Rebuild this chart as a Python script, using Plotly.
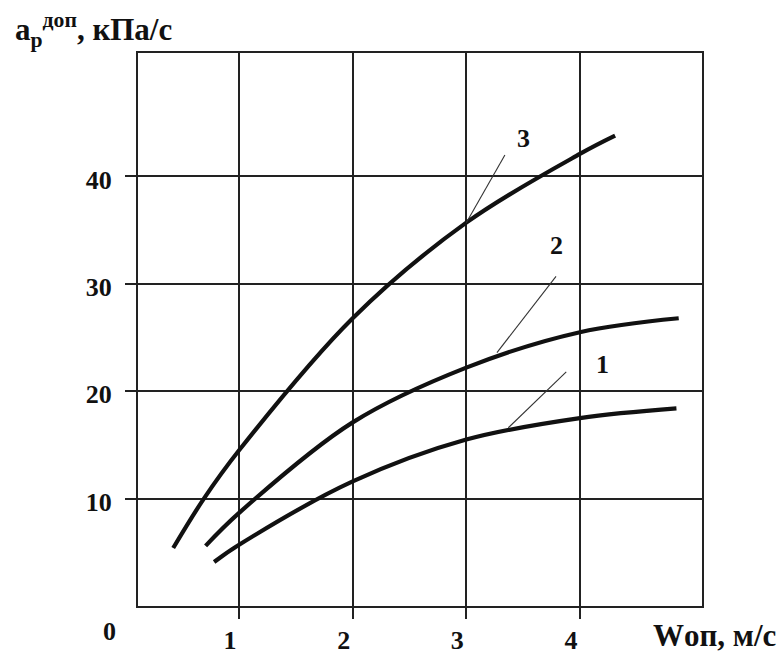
import plotly.graph_objects as go

# Curve data: permissible pressure rise rate vs. velocity
curve3_x = [0.42, 0.69, 1.0, 2.0, 3.0, 4.0, 4.31]
curve3_y = [5.4, 10.0, 14.5, 26.8, 35.7, 42.1, 43.8]

curve2_x = [0.705, 1.0, 2.0, 3.0, 4.0, 4.87]
curve2_y = [5.6, 8.67, 17.1, 22.2, 25.5, 26.8]

curve1_x = [0.78, 1.0, 2.0, 3.0, 4.0, 4.85]
curve1_y = [4.1, 5.7, 11.6, 15.5, 17.5, 18.4]

x_ticks = [1, 2, 3, 4]
y_ticks = [10, 20, 30, 40]

# Leader lines (from curve point to label) and curve labels
leader_labels = ["1", "2", "3"]
leader_x0 = [3.37, 3.27, 3.00]
leader_y0 = [16.6, 23.6, 35.7]
leader_x1 = [3.88, 3.79, 3.34]
leader_y1 = [21.8, 30.7, 42.0]
label_x = [4.20, 3.79, 3.50]
label_y = [22.5, 33.6, 43.5]

FONT = "Liberation Serif"
INK = "#111111"
GRID = "#222222"

fig = go.Figure()
for xs, ys in [(curve1_x, curve1_y), (curve2_x, curve2_y), (curve3_x, curve3_y)]:
    fig.add_trace(go.Scatter(
        x=xs, y=ys, mode="lines",
        line=dict(color=INK, width=4.2, shape="spline", smoothing=1.0),
        showlegend=False, hoverinfo="skip",
    ))

for i, lab in enumerate(leader_labels):
    fig.add_shape(type="line", x0=leader_x0[i], y0=leader_y0[i],
                  x1=leader_x1[i], y1=leader_y1[i],
                  line=dict(color="#333333", width=1.1))
    fig.add_annotation(x=label_x[i], y=label_y[i], text=f"<b>{lab}</b>",
                       showarrow=False, xanchor="center", yanchor="middle",
                       font=dict(family=FONT, size=26, color=INK))

# Origin label, sitting below the lower-left corner
fig.add_annotation(x=-0.05, y=-0.047, xref="paper", yref="paper", text="<b>0</b>",
                   showarrow=False, xanchor="center", yanchor="middle",
                   font=dict(family=FONT, size=26, color=INK))

fig.update_layout(
    width=781, height=654,
    margin=dict(l=138, r=79, t=53, b=48),
    paper_bgcolor="white", plot_bgcolor="white",
    xaxis=dict(
        range=[0.11, 5.075], tickvals=x_ticks, ticktext=[str(v) for v in x_ticks],
        showgrid=True, gridcolor=GRID, gridwidth=1.5,
        showline=True, linecolor=GRID, linewidth=2, mirror=True,
        ticks="outside", ticklen=11, tickwidth=1.5, tickcolor=GRID,
        ticklabelshift=-9, ticklabelstandoff=-1,
        tickfont=dict(family=FONT, size=26, color=INK, weight="bold"),
        zeroline=False, fixedrange=True, automargin=False,
    ),
    yaxis=dict(
        range=[0, 51.5], tickvals=y_ticks, ticktext=[str(v) for v in y_ticks],
        showgrid=True, gridcolor=GRID, gridwidth=1.5,
        showline=True, linecolor=GRID, linewidth=2, mirror=True,
        ticks="outside", ticklen=11, tickwidth=1.5, tickcolor=GRID,
        ticklabelstandoff=8, ticklabelshift=3,
        tickfont=dict(family=FONT, size=26, color=INK, weight="bold"),
        zeroline=False, fixedrange=True, automargin=False,
    ),
)

# Axis titles
fig.add_annotation(x=-0.222, y=1.042, xref="paper", yref="paper",
                   xanchor="left", yanchor="middle",
                   text="<b>a<sub>р</sub><sup>доп</sup>, кПа/с</b>", showarrow=False,
                   font=dict(family=FONT, size=31, color=INK))
fig.add_annotation(x=1.135, y=-0.054, xref="paper", yref="paper",
                   xanchor="right", yanchor="middle",
                   text="<b>Wоп, м/с</b>", showarrow=False,
                   font=dict(family=FONT, size=31, color=INK))

fig.write_html("out.html")
